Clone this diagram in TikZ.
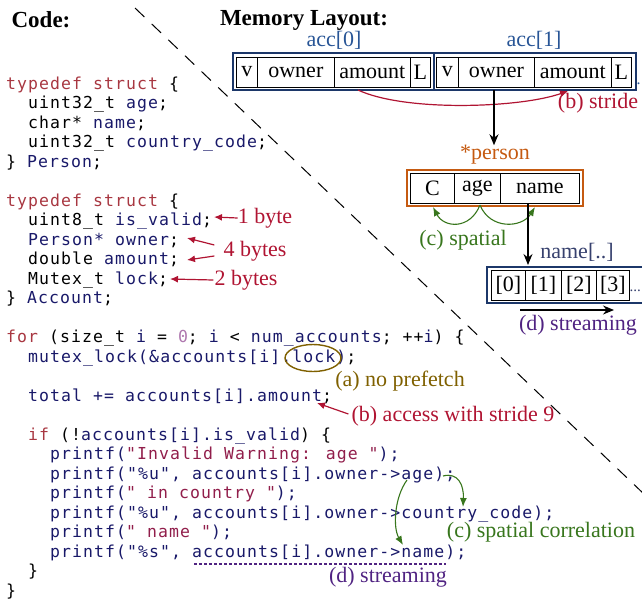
\documentclass[tikz,border=0pt]{standalone}
\usepackage{fontspec}
\setmainfont{Liberation Serif}
\newfontfamily\codefont[LetterSpace=6.5]{DejaVu Sans Mono}
\usetikzlibrary{arrows.meta,shapes.geometric}
\definecolor{navybox}{RGB}{28,55,105}
\definecolor{acclbl}{RGB}{40,85,150}
\definecolor{namelbl}{RGB}{55,65,110}
\definecolor{redc}{RGB}{176,20,50}
\definecolor{orangec}{RGB}{197,90,17}
\definecolor{greenc}{RGB}{56,118,29}
\definecolor{purplec}{RGB}{80,35,130}
\definecolor{brownc}{RGB}{127,96,0}
\definecolor{kwc}{RGB}{168,55,65}
\definecolor{nvc}{RGB}{25,25,105}
\definecolor{stc}{RGB}{145,30,75}
\definecolor{numc}{RGB}{175,120,175}
\newcommand\kw[1]{\textcolor{kwc}{#1}}
\newcommand\nv[1]{\textcolor{nvc}{#1}}
\newcommand\st[1]{\textcolor{stc}{#1}}
\newcommand\nm[1]{\textcolor{numc}{#1}}
\begin{document}
\begin{tikzpicture}[x=1pt,y=-1pt,
  code/.style={anchor=base west, inner sep=0pt, font=\fontsize{16.5}{19.5}\selectfont\codefont},
  lbl/.style={inner sep=0pt, font=\fontsize{22}{24}\selectfont},
  head/.style={inner sep=0pt, font=\fontsize{23}{25}\selectfont\bfseries},
  cell/.style={draw=black, line width=0.7pt, minimum height=30pt, inner sep=0pt, anchor=west, font=\fontsize{22}{24}\selectfont},
  outer/.style={line width=2.6pt, inner sep=0pt, minimum height=37pt},
  blk/.style={draw=black, line width=1.3pt, -{Stealth[length=11pt,width=9pt]}},
  rd/.style={draw=redc, line width=1.2pt, -{Latex[length=8pt,width=7pt]}},
  gr/.style={draw=greenc, line width=1.1pt, -{Latex[length=9pt,width=7pt]}}]
\useasboundingbox (0,0) rectangle (642,603);

% divider
\draw[dash pattern=on 13pt off 10pt, line width=1pt] (135,8) -- (645,495);

% headings
\node[head] (hcode) at (41,20) {Code:};
\node[head] (hmem) at (304,20) {Memory Layout:};

% ---------------- code ----------------
\node[code] (l0) at (6,89) {\kw{typedef struct} \{};
\node[code] (l1) at (28,108.5) {uint32\_t \nv{age};};
\node[code] (l2) at (28,128) {char* \nv{name};};
\node[code] (l3) at (28,147.5) {uint32\_t \nv{country\_code};};
\node[code] (l4) at (6,167) {\} \nv{Person};};
\node[code] (l6) at (6,206) {\kw{typedef struct} \{};
\node[code] (l7) at (28,225.5) {uint8\_t \nv{is\_valid};};
\node[code] (l8) at (28,245) {\nv{Person* owner};};
\node[code] (l9) at (28,264.5) {double \nv{amount};};
\node[code] (l10) at (28,284) {Mutex\_t \nv{lock};};
\node[code] (l11) at (6,303.5) {\} \nv{Account};};
\node[code] (l13) at (6,342.5) {\kw{for} (size\_t \nv{i} = \nm{0}; \nv{i} < \nv{num\_accounts}; ++\nv{i}) \{};
\node[code] (l14) at (28,362) {\nv{mutex\_lock(\&accounts[i].lock)};};
\node[code] (l16) at (28,401) {\nv{total += accounts[i].amount};};
\node[code] (l18) at (28,440) {\kw{if} (!\nv{accounts[i].is\_valid}) \{};
\node[code] (l19) at (50,459.5) {\nv{printf(}\st{"Invalid Warning: age "}\nv{);}};
\node[code] (l20) at (50,479) {\nv{printf("\%u", accounts[i].owner->age);}};
\node[code] (l21) at (50,498.5) {\nv{printf(}\st{" in country "}\nv{);}};
\node[code] (l22) at (50,518) {\nv{printf("\%u", accounts[i].owner->country\_code);}};
\node[code] (l23) at (50,537.5) {\nv{printf(}\st{" name "}\nv{);}};
\node[code] (l24) at (50,557) {\nv{printf("\%s", accounts[i].owner->name);}};
\node[code] (l25) at (28,576.5) {\}};
\node[code] (l26) at (6,596) {\}};

% ---------------- code annotations ----------------
\node[lbl, text=redc] (b1) at (265,218) {1 byte};
\coordinate (t1) at (214,217);
\draw[rd] (b1.west) -- (t1);
\node[lbl, text=redc] (b4) at (255,251) {4 bytes};
\coordinate (t4a) at (187,238);
\coordinate (t4b) at (187,260);
\draw[rd] ([shift={(-9,-6)}]b4.west) -- (t4a);
\draw[rd] ([shift={(-9,5)}]b4.west) -- (t4b);
\node[lbl, text=redc] (b2) at (246,280) {2 bytes};
\coordinate (t2) at (170,279);
\draw[rd] ([xshift=-1pt]b2.west) -- (t2);

\node[draw=brownc, line width=1.4pt, ellipse, minimum width=56pt, minimum height=27pt, inner sep=0pt] (ell) at (313,358) {};
\node[lbl, text=brownc] (pa) at (400,381) {(a) no prefetch};

\node[lbl, text=redc] (pb) at (453,416) {(b) access with stride 9};
\coordinate (tb) at (317,403);
\draw[rd] ([shift={(-3,-2)}]pb.west) -- (tb);

\coordinate (ageA) at (407,480);
\coordinate (nameA) at (403,545);
\coordinate (ageP) at (443,476);
\coordinate (ccA) at (463,507);
\draw[gr] (ageA) .. controls (394,498) and (393,528) .. (nameA);
\draw[gr] (ageP) .. controls (458,472) and (464,485) .. (ccA);
\node[lbl, text=greenc] (pc) at (541,532) {(c) spatial correlation};

\coordinate (ul1) at (194,564);
\coordinate (ul2) at (446,564);
\draw[draw=purplec, line width=1.6pt, dash pattern=on 3pt off 2pt] (ul1) -- (ul2);
\node[lbl, text=purplec] (pd) at (388,577) {(d) streaming};

% ---------------- memory layout ----------------
\node[lbl, text=acclbl] (acc0) at (334,40) {acc[0]};
\node[lbl, text=acclbl] (acc1) at (534,40) {acc[1]};

\node[outer, draw=navybox, minimum width=201pt] (box0) at (333.5,71.5) {};
\node[outer, draw=navybox, minimum width=202pt] (box1) at (535,71.5) {};
\node[cell, minimum width=21pt] (a0v) at (236,72) {v};
\node[cell, minimum width=77pt] (a0o) at (257,72) {owner};
\node[cell, minimum width=76pt] (a0a) at (334,72) {amount};
\node[cell, minimum width=20pt] (a0l) at (410,72) {L};
\node[cell, minimum width=22pt] (a1v) at (436,72) {v};
\node[cell, minimum width=76pt] (a1o) at (458,72) {owner};
\node[cell, minimum width=77pt] (a1a) at (534,72) {amount};
\node[cell, minimum width=20pt] (a1l) at (611,72) {L};
\node[inner sep=0pt, font=\fontsize{16}{18}\selectfont, text=acclbl, anchor=west] (dots1) at (636.5,84) {.};

\coordinate (sA) at (358,90);
\coordinate (sB) at (568,91);
\draw[rd] (sA) .. controls (405,112) and (520,108) .. (sB);
\node[lbl, text=redc] (pbs) at (598,103) {(b) stride};

\node[lbl, text=orangec] (pl) at (495,155) {*person};
\coordinate (ownA) at (494,90);
\draw[blk] (ownA) -- (pl.north -| ownA);

\node[outer, draw=orangec, minimum width=176pt, minimum height=36pt] (pbox) at (495,188) {};
\node[cell, minimum width=44pt] (pC) at (410,188) {C};
\node[cell, minimum width=46pt] (pAge) at (454,188) {age};
\node[cell, minimum width=79pt] (pName) at (500,188) {name};

\coordinate (cL) at (433,207);
\coordinate (cR) at (535,207);
\coordinate (cM) at (480,205);
\draw[gr] (cM) .. controls (470,230) and (444,228) .. (cL);
\draw[gr] (cM) .. controls (490,230) and (522,228) .. (cR);
\node[lbl, text=greenc] (pcs) at (463,240) {(c) spatial};

\node[lbl, text=namelbl] (nl) at (577,252) {name[..]};
\coordinate (nmT) at (528,265);
\draw[blk] (pName.south -| nmT) -- (nmT);

\node[outer, draw=navybox, minimum width=180pt, minimum height=36pt] (nbox) at (577,285) {};
\node[cell, minimum width=34pt] (n0) at (491,285) {[0]};
\node[cell, minimum width=36pt] (n1) at (525,285) {[1]};
\node[cell, minimum width=35pt] (n2) at (561,285) {[2]};
\node[cell, minimum width=33pt] (n3) at (596,285) {[3]};
\node[inner sep=0pt, font=\fontsize{15}{17}\selectfont, text=namelbl, anchor=west] (ndots) at (629.5,291) {...};

\coordinate (st1) at (520,310);
\coordinate (st2) at (614,310);
\draw[blk] (st1) -- (st2);
\node[lbl, text=purplec] (pds) at (578,325) {(d) streaming};
\end{tikzpicture}
\end{document}
